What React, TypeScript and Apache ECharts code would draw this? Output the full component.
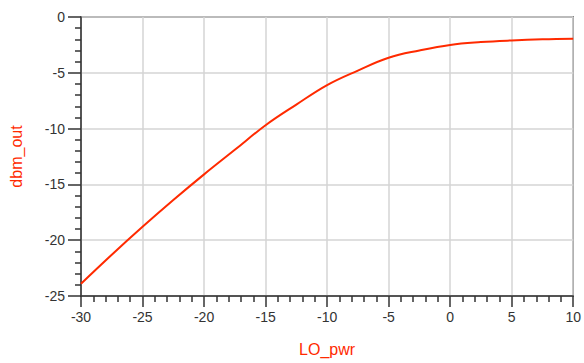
import React, { useEffect, useRef } from "react";
import * as echarts from "echarts";

const loPwr = [-30, -27.5, -25, -22.5, -20, -17.5, -15, -12.5, -10, -7.5, -5, -2.5, 0, 2.5, 5, 7.5, 10];
const dbmOut = [-23.9, -21.3, -18.8, -16.4, -14.1, -11.9, -9.7, -7.85, -6.1, -4.8, -3.65, -3.0, -2.5, -2.25, -2.1, -2.0, -1.95];

const xName = "LO_pwr";
const yName = "dbm_out";

export default function App() {
  const ref = useRef<HTMLDivElement>(null);
  useEffect(() => {
    if (!ref.current) return;
    const chart = echarts.init(ref.current, null, { renderer: "svg" });
    const red = "#ff2a00";
    const labelStyle = { color: "#333", fontFamily: "Liberation Sans", fontSize: 14 };
    const nameStyle = { color: red, fontFamily: "Liberation Sans", fontSize: 16 };
    chart.setOption({
      animation: false,
      grid: {
        left: 81,
        top: 17,
        right: 8,
        bottom: 67,
        show: true,
        borderColor: "#444",
        borderWidth: 1.5,
        backgroundColor: "#fff",
      },
      xAxis: {
        type: "value",
        min: -30,
        max: 10,
        interval: 5,
        name: xName,
        nameLocation: "middle",
        nameGap: 45,
        nameTextStyle: nameStyle,
        axisLine: { show: true, onZero: false, lineStyle: { color: "#333", width: 1.5 } },
        axisTick: { show: true, inside: false, length: 11, lineStyle: { color: "#333", width: 1.5 } },
        minorTick: { show: true, splitNumber: 5, length: 6, lineStyle: { color: "#333", width: 1.5 } },
        axisLabel: { ...labelStyle, margin: 14 },
        splitLine: { show: true, lineStyle: { color: "#d4d4d4", width: 1.5 } },
      },
      yAxis: {
        type: "value",
        min: -25,
        max: 0,
        interval: 5,
        name: yName,
        nameLocation: "middle",
        nameRotate: 90,
        nameGap: 57,
        nameTextStyle: nameStyle,
        axisLine: { show: true, onZero: false, lineStyle: { color: "#333", width: 1.5 } },
        axisTick: { show: true, inside: false, length: 13, lineStyle: { color: "#333", width: 1.5 } },
        minorTick: { show: true, splitNumber: 5, length: 6, lineStyle: { color: "#333", width: 1.5 } },
        axisLabel: { ...labelStyle, margin: 16 },
        splitLine: { show: true, lineStyle: { color: "#d4d4d4", width: 1.5 } },
      },
      series: [
        {
          type: "line",
          data: loPwr.map((x, i) => [x, dbmOut[i]]),
          smooth: 0.4,
          showSymbol: false,
          symbol: "none",
          lineStyle: { color: red, width: 2 },
        },
      ],
    });
    return () => chart.dispose();
  }, []);
  return <div ref={ref} style={{ width: 584, height: 363, position: "absolute", left: 0, top: 0 }} />;
}
